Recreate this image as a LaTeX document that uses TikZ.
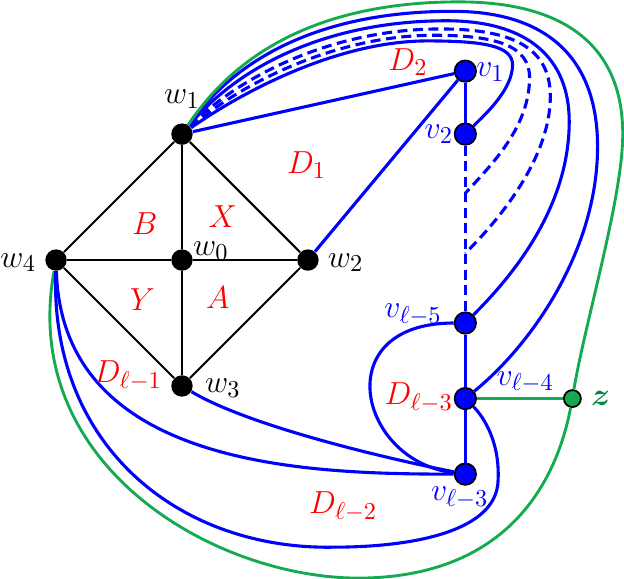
\documentclass[tikz,border=0pt]{standalone}
\usepackage{amsmath,amssymb,bm}
\usetikzlibrary{arrows.meta,positioning}
\definecolor{gr}{RGB}{20,170,80}
\definecolor{dgr}{RGB}{0,135,65}

\begin{document}
\begin{tikzpicture}[x=1cm,y=1cm,font=\fontsize{15}{18}\selectfont,
  wv/.style={circle,fill=black,inner sep=0pt,minimum size=.34cm},
  bv/.style={circle,draw=black,line width=.8pt,fill=blue,inner sep=0pt,minimum size=.34cm},
  gv/.style={circle,draw=black,line width=.8pt,fill=gr,inner sep=0pt,minimum size=.27cm},
  be/.style={line width=.9pt},
  bl/.style={blue,line width=1.4pt},
  bd/.style={blue,line width=1.4pt,dash pattern=on 4.5pt off 2.5pt},
  gl/.style={gr,line width=1.3pt}]
  \useasboundingbox (-2.89,-5.06) rectangle (7.02,4.13);
  % wheel
  \node[wv] (w0) at (0,0) {};
  \node[wv] (w1) at (0,2) {};
  \node[wv] (w2) at (2,0) {};
  \node[wv] (w3) at (0,-2) {};
  \node[wv] (w4) at (-2,0) {};
  \draw[be] (w1)--(w2)--(w3)--(w4)--(w1);
  \draw[be] (w1)--(w0)--(w3); \draw[be] (w4)--(w0)--(w2);
  % path of v's
  \node[bv] (v1) at (4.5,3) {};
  \node[bv] (v2) at (4.5,2) {};
  \coordinate (j1) at (4.5,1.06);
  \coordinate (j2) at (4.5,0.11);
  \node[bv] (vl5) at (4.5,-1) {};
  \node[bv] (dl3) at (4.5,-2.2) {};
  \node[bv] (vl3) at (4.5,-3.4) {};
  \node[gv] (z) at (6.2,-2.2) {};
  \draw[bl] (w1)--(v1); \draw[bl] (w2)--(v1); \draw[bl] (v1)--(v2);
  \draw[bd] (v2)--(j1)--(j2)--(vl5);
  \draw[bl] (vl5)--(dl3)--(vl3);
  \draw[gl] (dl3)--(z);
  % fan from w1 over the top
  \draw[bl] (w1) .. controls (1.0,2.7) and (2.5,3.48) .. (3.9,3.48) .. controls (4.8,3.48) and (5.25,3.4) .. (5.25,3.1) .. controls (5.25,2.7) and (4.8,2.3) .. (v2);
  \draw[bd] (w1) .. controls (1.0,2.85) and (2.5,3.57) .. (4.0,3.57) .. controls (5.0,3.57) and (5.52,3.4) .. (5.52,2.9) .. controls (5.52,2.1) and (4.9,1.5) .. (j1);
  \draw[bd] (w1) .. controls (1.0,3.0) and (2.5,3.67) .. (4.1,3.67) .. controls (5.2,3.67) and (5.85,3.4) .. (5.85,2.6) .. controls (5.85,1.6) and (5.0,0.6) .. (j2);
  \draw[bl] (w1) .. controls (1.0,3.2) and (2.5,3.8) .. (4.2,3.8) .. controls (5.5,3.8) and (6.15,3.2) .. (6.15,2.2) .. controls (6.15,0.8) and (5.2,-0.3) .. (vl5);
  \draw[bl] (w1) .. controls (1.0,3.4) and (2.5,3.95) .. (4.3,3.95) .. controls (5.8,3.95) and (6.6,3.2) .. (6.6,1.8) .. controls (6.6,0.2) and (5.6,-1.3) .. (dl3);
  \draw[gl] (w1) .. controls (1.0,3.5) and (2.5,4.1) .. (4.4,4.1) .. controls (6.2,4.1) and (7.0,3.3) .. (7.0,2.0) .. controls (7.0,1.0) and (6.4,-1.0) .. (z)
    .. controls (5.95,-3.5) and (5.2,-5.0) .. (2.9,-5.05) .. controls (0.6,-5.1) and (-2.6,-3.3) .. (w4);
  % curves below
  \draw[bl] (vl5) .. controls (2.3,-1.0) and (2.8,-3.2) .. (vl3);
  \draw[bl] (w3) .. controls (1.0,-2.6) and (3.0,-3.1) .. (vl3);
  \draw[bl] (w4) .. controls (-1.9,-3.3) and (2.0,-3.4) .. (vl3);
  \draw[bl] (w4) .. controls (-2.1,-3.0) and (0.0,-4.6) .. (2.4,-4.56) .. controls (3.7,-4.56) and (5.0,-4.3) .. (5.02,-3.5) .. controls (5.05,-2.9) and (4.8,-2.5) .. (dl3);
  % vertex labels
  \node (lw0) at (0.46,0.14) {$w_0$};
  \node (lw1) at (0,2.55) {$w_1$};
  \node (lw2) at (2.6,-0.04) {$w_2$};
  \node (lw3) at (0.65,-2.03) {$w_3$};
  \node (lw4) at (-2.6,-0.04) {$w_4$};
  \node[blue] (lv1) at (4.9,2.99) {$v_1$};
  \node[blue] (lv2) at (4.08,2.0) {$v_2$};
  \node[blue] (lvl5) at (3.67,-0.87) {$v_{\ell-5}$};
  \node[blue] (lvl4) at (5.45,-1.94) {$v_{\ell-4}$};
  \node[blue] (lvl3) at (4.41,-3.78) {$v_{\ell-3}$};
  \node[dgr] (lz) at (6.65,-2.19) {$\boldsymbol{z}$};
  % faces
  \node[red] (fx) at (0.65,0.69) {$X$};
  \node[red] (fb) at (-0.59,0.58) {$B$};
  \node[red] (fy) at (-0.63,-0.63) {$Y$};
  \node[red] (fa) at (0.57,-0.59) {$A$};
  \node[red] (fd1) at (1.98,1.51) {$D_1$};
  \node[red] (fd2) at (3.59,3.14) {$D_2$};
  \node[red] (fdl1) at (-0.86,-1.83) {$D_{\ell-1}$};
  \node[red] (fdl2) at (2.56,-3.92) {$D_{\ell-2}$};
  \node[red] (fdl3) at (3.76,-2.19) {$D_{\ell-3}$};
\end{tikzpicture}
\end{document}
